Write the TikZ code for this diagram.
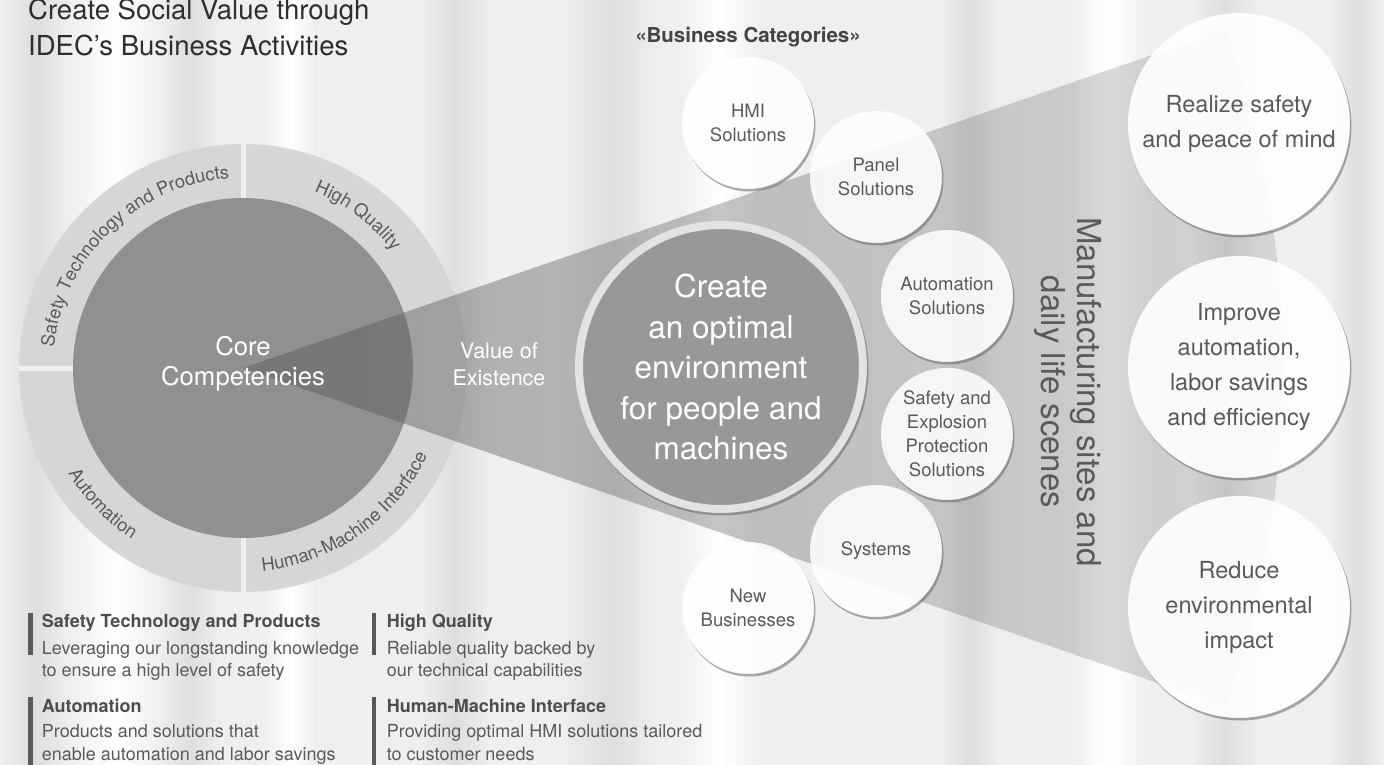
\documentclass[tikz,border=0pt]{standalone}
\usepackage{fontspec}
\setmainfont{TeX Gyre Heros}
\usetikzlibrary{positioning,calc,decorations.text,fadings}

\definecolor{bgbase}{HTML}{EDEFF0}
\definecolor{streakdark}{HTML}{DCDEE0}
\definecolor{ringgray}{HTML}{D5D6D8}
\definecolor{coregray}{HTML}{8F9092}
\definecolor{goalgray}{HTML}{979898}
\definecolor{goalrim}{HTML}{E3E3E3}
\definecolor{inkgray}{HTML}{5A5A5A}
\definecolor{headgray}{HTML}{2E2E2E}
\definecolor{catgray}{HTML}{444444}
\definecolor{notegray}{HTML}{4E4E4E}
\definecolor{shadowgray}{HTML}{6E6866}

\tikzfading[name=wedgefade, left color=transparent!50, right color=transparent!83]

\tikzset{
  ringdisk/.style={circle, fill=ringgray, minimum size=448pt, inner sep=0pt},
  coredisk/.style={circle, fill=coregray, minimum size=340pt, inner sep=0pt},
  whitetext/.style={text=white, align=center},
  goaldisk/.style={circle, fill=goalgray, draw=goalrim, line width=8pt, minimum size=284pt, inner sep=0pt, text=white, align=center, font=\fontsize{31.5}{40.5}\selectfont},
  bizdisk/.style={circle, fill=white, fill opacity=0.86, text opacity=1, minimum size=132pt, inner sep=0pt, text=inkgray, align=center, font=\fontsize{18.5}{24}\selectfont},
  valuedisk/.style={circle, fill=white, fill opacity=0.9, text opacity=1, minimum size=222pt, inner sep=0pt, text=inkgray, align=center, font=\fontsize{23.5}{35}\selectfont},
  ringlabel/.style={decorate, decoration={text along path, text align=center, text={|\fontsize{18.3}{18.3}\selectfont\color{inkgray}|#1}}},
  desctext/.style={anchor=north west, inner sep=0pt, align=left, text=inkgray, font=\fontsize{18}{22.5}\selectfont},
  descbar/.style={draw=inkgray, line width=4.5pt}
}

\begin{document}
\begin{tikzpicture}[x=1pt, y=1pt]
  \useasboundingbox (0,0) rectangle (1384,-765);
  % silver backdrop with soft vertical streaks
  \fill[bgbase] (0,0) rectangle (1384,-765);
  \foreach \x/\w/\c in {0/70/streakdark, 70/90/white, 160/60/streakdark, 265/50/white, 420/70/streakdark, 560/100/streakdark, 680/80/white, 940/60/streakdark, 1070/80/white, 1190/70/streakdark, 1330/54/streakdark}
    \shade[left color=bgbase, right color=bgbase, middle color=\c] (\x,0) rectangle ++(\w,-765);

  % competence ring, split in four quarters
  \node[ringdisk] (ring) at (243,-368) {};
  \draw[bgbase, line width=5pt] (ring.north) -- (ring.south);
  \draw[bgbase, line width=5pt] (ring.west) -- (ring.center);
  \node[coredisk] (core) at (ring.center) {};
  \path[ringlabel={Safety Technology and Products}] ($(core.center)+(179:190)$) arc[start angle=179, end angle=89, radius=190];
  \path[ringlabel={High Quality}] ($(core.center)+(88:190)$) arc[start angle=88, end angle=18, radius=190];
  \path[ringlabel={Automation}] ($(core.center)+(190:204)$) arc[start angle=190, end angle=258, radius=204];
  \path[ringlabel={Human-Machine Interface}] ($(core.center)+(268:204)$) arc[start angle=268, end angle=342, radius=204];

  % wedge fanning out of the core
  \fill[black!64, path fading=wedgefade] (core.center) -- ++(19:1040) arc[start angle=19, end angle=-19, radius=1040] -- cycle;
  \node[whitetext, font=\fontsize{25.7}{30}\selectfont] (corelabel) at (243,-364) {Core\\Competencies};
  \node[whitetext, font=\fontsize{21.5}{27}\selectfont] (existence) at (499,-364) {Value of\\Existence};

  \node[goaldisk] (goal) at (721,-367) {Create\\an optimal\\environment\\for people and\\machines};

  % business categories
  \node[font=\bfseries\fontsize{20.5}{20.5}\selectfont, text=catgray] (catlabel) at (748,-37) {«Business Categories»};
  \node[bizdisk] (hmi) at (748,-123) {HMI\\Solutions};
  \node[bizdisk] (panel) at (876,-177) {Panel\\Solutions};
  \node[bizdisk] (autosol) at (947,-296) {Automation\\Solutions};
  \node[bizdisk] (safesol) at (947,-434) {Safety and\\Explosion\\Protection\\Solutions};
  \node[bizdisk] (systems) at (876,-551) {Systems};
  \node[bizdisk] (newbiz) at (748,-608) {New\\Businesses};

  % social values
  \node[valuedisk] (safety) at (1239,-124) {Realize safety\\and peace of mind};
  \node[valuedisk] (autom) at (1239,-367) {Improve\\automation,\\labor savings\\and efficiency};
  \node[valuedisk] (envir) at (1239,-607) {Reduce\\environmental\\impact};

  % shadows on the lower right of each disk
  \foreach \c/\r in {hmi/66, panel/66, autosol/66, safesol/66, systems/66, newbiz/66, safety/111, autom/111, envir/111, goal/146} {
    \begin{scope}[even odd rule]
      \clip (0,0) rectangle (1384,-765) (\c.center) circle[radius=\r];
      \fill[shadowgray, opacity=0.55] ($(\c.center)+(1.5,-2.5)$) circle[radius=\r];
    \end{scope}
  }

  \node[rotate=-90, text=inkgray, align=center, font=\fontsize{33}{36}\selectfont] (scenes) at (1068,-392) {Manufacturing sites and\\daily life scenes};

  % heading
  \node[anchor=north west, inner sep=0pt, align=left, text=headgray, font=\fontsize{27.5}{36.5}\selectfont] (title) at (28,1.5) {Create Social Value through\\IDEC’s Business Activities};

  % notes on the four competencies
  \node[desctext] (safetynote) at (41.7,-614) {{\bfseries\color{notegray}Safety Technology and Products}\\[4pt]Leveraging our longstanding knowledge\\to ensure a high level of safety};
  \node[desctext] (qualitynote) at (386.7,-614) {{\bfseries\color{notegray}High Quality}\\[4pt]Reliable quality backed by\\our technical capabilities};
  \node[desctext] (autonote) at (41.7,-698.5) {{\bfseries\color{notegray}Automation}\\[3pt]Products and solutions that\\enable automation and labor savings};
  \node[desctext] (hminote) at (386.7,-698.5) {{\bfseries\color{notegray}Human-Machine Interface}\\[3pt]Providing optimal HMI solutions tailored\\to customer needs};
  \draw[descbar] ([xshift=-11pt, yshift=1pt]safetynote.north west) -- ++(0,-42);
  \draw[descbar] ([xshift=-12.5pt, yshift=1pt]qualitynote.north west) -- ++(0,-42);
  \draw[descbar] ([xshift=-11pt, yshift=1.5pt]autonote.north west) -- ++(0,-70);
  \draw[descbar] ([xshift=-12.5pt, yshift=1.5pt]hminote.north west) -- ++(0,-70);
\end{tikzpicture}
\end{document}
